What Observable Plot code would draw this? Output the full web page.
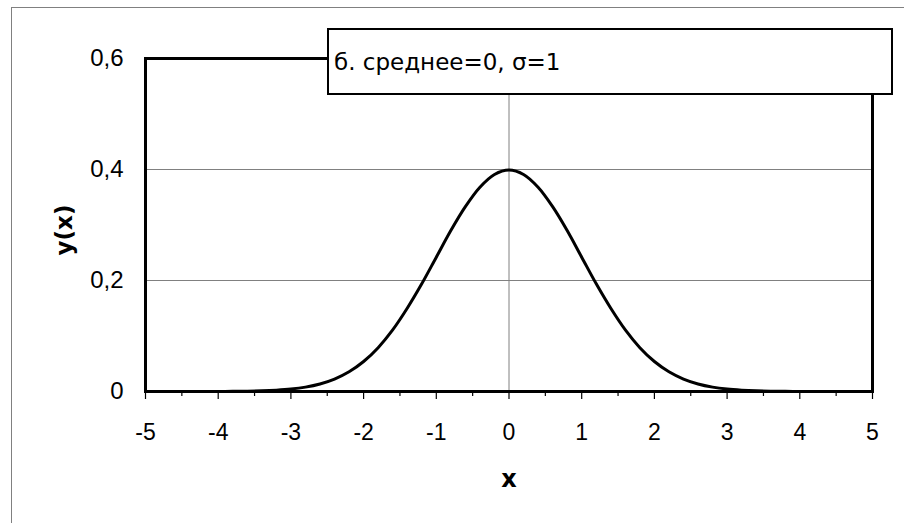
<!DOCTYPE html>
<html>
<head>
<meta charset="utf-8">
<script src="https://cdn.jsdelivr.net/npm/d3@7"></script>
<script src="https://cdn.jsdelivr.net/npm/@observablehq/plot@0.6"></script>
<style>
  html, body { margin: 0; padding: 0; background: #fff; }
  #wrap { position: relative; width: 904px; height: 523px; overflow: hidden; }
  #border { position: absolute; left: 11px; top: 7px; width: 1000px; height: 1000px;
            border-left: 1px solid #808080; border-top: 1px solid #808080; box-sizing: border-box; }
  #legend { position: absolute; left: 327px; top: 28px; width: 566px; height: 67px;
            border: 2px solid #000; background: #fff; box-sizing: border-box;
            font-family: "DejaVu Sans", Tahoma, sans-serif; font-size: 23px; color: #000;
            padding: 21px 0 0 5px; line-height: 1; white-space: nowrap; }
</style>
</head>
<body>
<div id="wrap">
  <div id="border"></div>
  <div id="chart"></div>
  <div id="legend">б. среднее=0, σ=1</div>
</div>
<script>
const xValues = [-5, -4.8, -4.6, -4.4, -4.2, -4, -3.8, -3.6, -3.4, -3.2, -3, -2.8, -2.6, -2.4, -2.2, -2, -1.8, -1.6, -1.4, -1.2, -1, -0.8, -0.6, -0.4, -0.2, 0,
                 0.2, 0.4, 0.6, 0.8, 1, 1.2, 1.4, 1.6, 1.8, 2, 2.2, 2.4, 2.6, 2.8, 3, 3.2, 3.4, 3.6, 3.8, 4, 4.2, 4.4, 4.6, 4.8, 5];
const yValues = [0, 0, 0, 0, 0, 0.0001, 0.0003, 0.0006, 0.0012, 0.0024, 0.0044, 0.0079, 0.0136, 0.0224, 0.0355, 0.054, 0.079, 0.111, 0.150, 0.194, 0.242, 0.290, 0.333, 0.368, 0.391, 0.399,
                 0.391, 0.368, 0.333, 0.290, 0.242, 0.194, 0.150, 0.111, 0.079, 0.054, 0.0355, 0.0224, 0.0136, 0.0079, 0.0044, 0.0024, 0.0012, 0.0006, 0.0003, 0.0001, 0, 0, 0, 0, 0];
const xMajorTicks = [-5, -4, -3, -2, -1, 0, 1, 2, 3, 4, 5];
const xMinorTicks = [-4.5, -3.5, -2.5, -1.5, -0.5, 0.5, 1.5, 2.5, 3.5, 4.5];
const yTicks = [0, 0.2, 0.4, 0.6];
const yGrid = [0.2, 0.4];
const xTitle = "x";
const yTitle = "y(x)";

const data = xValues.map((x, i) => ({x, y: yValues[i]}));
const fmtY = d => d === 0 ? "0" : String(d).replace(".", ",");

const chart = Plot.plot({
  width: 904,
  height: 523,
  marginLeft: 145,
  marginRight: 32,
  marginTop: 58,
  marginBottom: 132,
  style: { background: "transparent", fontFamily: "'Liberation Sans', Arial, sans-serif", color: "#000" },
  x: { domain: [-5, 5] },
  y: { domain: [0, 0.6] },
  marks: [
    Plot.ruleY(yGrid, { stroke: "#808080", strokeWidth: 1 }),
    Plot.ruleX([0], { stroke: "#808080", strokeWidth: 1 }),
    Plot.line(data, { x: "x", y: "y", stroke: "#000", strokeWidth: 3, curve: "catmull-rom" }),
    Plot.frame({ stroke: "#000", strokeWidth: 3 }),
    Plot.axisX(xMinorTicks, { tickSize: 5, text: null, strokeWidth: 1.2, label: null }),
    Plot.axisX(xMajorTicks, { tickSize: 8, tickPadding: 24, strokeWidth: 1.2, fontSize: 23, label: null, tickFormat: d => String(d) }),
    Plot.axisY(yTicks, { tickSize: 0, tickPadding: 22, dy: 0, fontSize: 24, label: null, tickFormat: fmtY }),
    Plot.text([yTitle], { frameAnchor: "left", textAnchor: "middle", dx: -81, dy: 5, rotate: -90, fontSize: 23, fontWeight: "bold", fontFamily: "DejaVu Sans" }),
    Plot.text([xTitle], { frameAnchor: "bottom", dy: 95, fontSize: 24, fontWeight: "bold", fontFamily: "DejaVu Sans" })
  ]
});
document.getElementById("chart").appendChild(chart);
</script>
</body>
</html>
